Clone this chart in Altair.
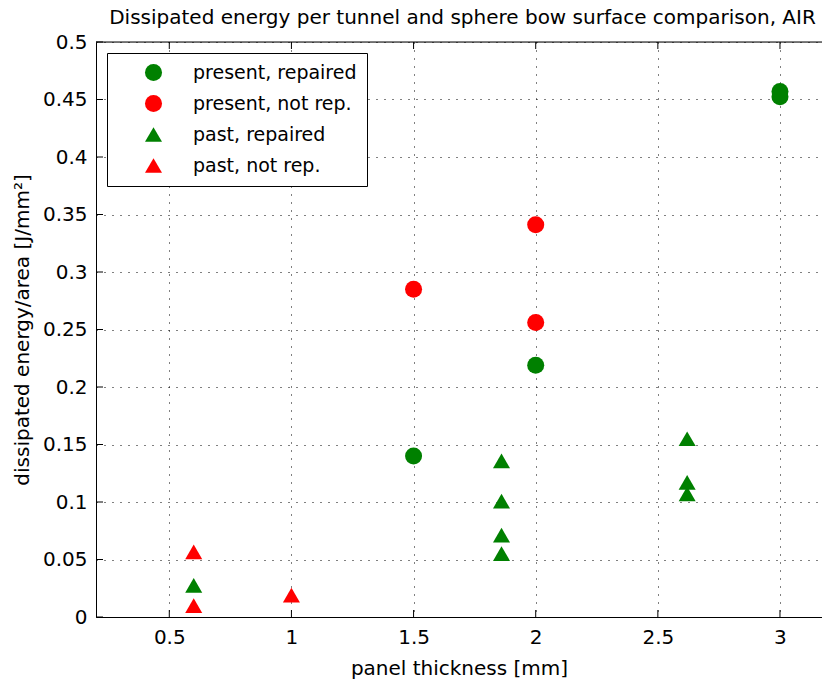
import altair as alt
import pandas as pd

FONT = "DejaVu Sans"

# series definitions
series = ["present, repaired", "present, not rep.", "past, repaired", "past, not rep."]
colors = ["#008000", "#ff0000", "#008000", "#ff0000"]
shapes = ["circle", "circle", "triangle-up", "triangle-up"]
sizes = [290, 290, 420, 420]

# values
pres_rep_x = [1.5, 2.0, 3.0, 3.0]
pres_rep_y = [0.140, 0.219, 0.4525, 0.457]
pres_not_x = [1.5, 2.0, 2.0]
pres_not_y = [0.285, 0.341, 0.256]
past_rep_x = [0.6, 1.86, 1.86, 1.86, 1.86, 2.62, 2.62, 2.62]
past_rep_y = [0.0274, 0.0552, 0.0711, 0.1007, 0.1357, 0.107, 0.117, 0.155]
past_not_x = [0.6, 0.6, 1.0]
past_not_y = [0.0566, 0.0098, 0.019]

x_ticks = [0.5, 1.0, 1.5, 2.0, 2.5, 3.0]
y_ticks = [0, 0.05, 0.1, 0.15, 0.2, 0.25, 0.3, 0.35, 0.4, 0.45, 0.5]

rows = []
for name, xs, ys in [
    (series[0], pres_rep_x, pres_rep_y),
    (series[1], pres_not_x, pres_not_y),
    (series[2], past_rep_x, past_rep_y),
    (series[3], past_not_x, past_not_y),
]:
    for xv, yv in zip(xs, ys):
        rows.append({"x": xv, "y": yv, "series": name})
df = pd.DataFrame(rows)
df_xt = pd.DataFrame({"x": x_ticks})
df_yt = pd.DataFrame({"y": y_ticks})

W, H = 726, 575
TICK = 7

x_scale = alt.Scale(domain=[0.2, 3.172], nice=False, zero=False)
y_scale = alt.Scale(domain=[0, 0.5], nice=False)

x_axis = alt.Axis(
    values=x_ticks, format=".1~f", grid=True, gridDash=[1, 7], gridColor="black",
    gridOpacity=1, tickSize=0, labelPadding=10, labelFontSize=20, labelFont=FONT,
    labelColor="black", title="panel thickness [mm]", titleFontSize=20, titleFont=FONT,
    titleFontWeight="normal", titleColor="black", titlePadding=11, domainColor="black",
    labelFlush=False, labelOverlap=False,
)
y_axis = alt.Axis(
    values=y_ticks, format=".2~f", grid=True, gridDash=[1, 7], gridColor="black",
    gridOpacity=1, tickSize=0, labelPadding=9, labelFontSize=20, labelFont=FONT,
    labelColor="black", title="dissipated energy/area [J/mm²]", titleFontSize=20,
    titleFont=FONT, titleFontWeight="normal", titleColor="black", titlePadding=10,
    domainColor="black", labelFlush=False, labelOverlap=False,
)

legend = alt.Legend(
    orient="none", legendX=11, legendY=11, title=None, fillColor="white",
    strokeColor="black", padding=10, labelFontSize=19, labelFont=FONT,
    labelColor="black", labelLimit=400, symbolOffset=27, labelOffset=30, rowPadding=11,
    cornerRadius=0, symbolStrokeWidth=0, symbolOpacity=1,
)

points = alt.Chart(df).mark_point(filled=True, opacity=1, strokeWidth=0).encode(
    x=alt.X("x:Q", scale=x_scale, axis=x_axis),
    y=alt.Y("y:Q", scale=y_scale, axis=y_axis),
    color=alt.Color("series:N", scale=alt.Scale(domain=series, range=colors), legend=legend),
    shape=alt.Shape("series:N", scale=alt.Scale(domain=series, range=shapes), legend=legend),
    size=alt.Size("series:N", scale=alt.Scale(domain=series, range=sizes), legend=legend),
)

bottom_ticks = alt.Chart(df_xt).mark_rule(color="black", strokeWidth=1).encode(
    x=alt.X("x:Q", scale=x_scale, axis=x_axis),
    y=alt.value(H), y2=alt.value(H - TICK),
)
top_ticks = alt.Chart(df_xt).mark_rule(color="black", strokeWidth=1).encode(
    x=alt.X("x:Q", scale=x_scale, axis=x_axis),
    y=alt.value(0), y2=alt.value(TICK),
)
left_ticks = alt.Chart(df_yt).mark_rule(color="black", strokeWidth=1).encode(
    y=alt.Y("y:Q", scale=y_scale, axis=y_axis),
    x=alt.value(0), x2=alt.value(TICK),
)
top_border = alt.Chart(pd.DataFrame({"k": [0]})).mark_rule(color="black", strokeWidth=1).encode(
    x=alt.value(0), x2=alt.value(W), y=alt.value(0),
)

chart = alt.layer(bottom_ticks, top_ticks, left_ticks, top_border, points).properties(
    width=W, height=H,
    title=alt.TitleParams(
        "Dissipated energy per tunnel and sphere bow surface comparison, AIR",
        fontSize=20, font=FONT, fontWeight="normal", color="black",
        anchor="middle", dx=3.5, offset=4,
    ),
    autosize=alt.AutoSizeParams(type="none"),
    padding={"left": 96, "top": 42, "right": 0, "bottom": 65},
).configure_view(stroke=None).configure(background="white")

chart.save("out.html", embed_options={"renderer": "svg", "actions": False})
